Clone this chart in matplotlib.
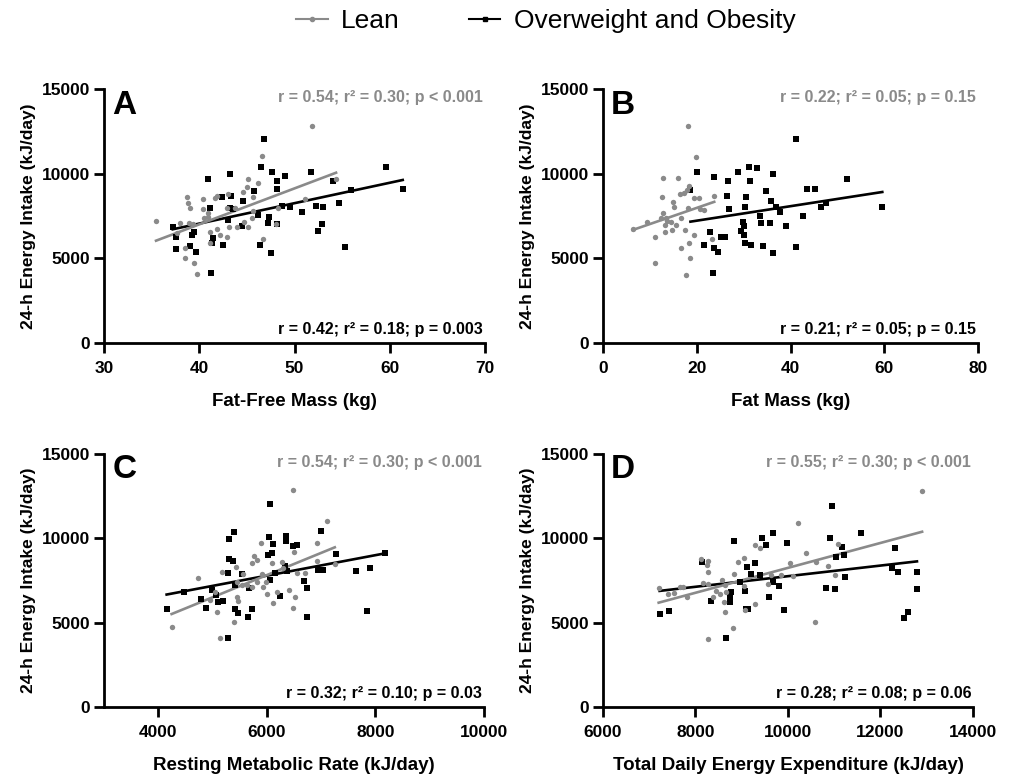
import matplotlib
matplotlib.use('Agg')
import matplotlib.pyplot as plt
from matplotlib.lines import Line2D
import numpy as np

plt.rcParams['font.family'] = ['Liberation Sans', 'DejaVu Sans']

GREY = '#8a8a8a'
BLACK = '#000000'

# ---- data ----
# A: fat-free mass (kg) vs 24-h energy intake (kJ/day)
a_lean_x = [35.46, 51.87, 46.59, 45.15, 46.20, 44.98, 44.56, 45.61, 43.02, 41.83, 41.65, 40.43,
            38.68, 38.85, 39.03, 37.98, 38.96, 39.38, 37.63, 40.43, 40.88, 40.95, 40.50, 42.88,
            43.75, 43.93, 43.09, 45.15, 44.70, 45.50, 45.68, 41.13, 41.83, 42.18, 42.88, 41.13,
            38.50, 38.50, 39.45, 39.73, 46.66, 48.06, 48.30, 51.10, 54.36]
a_lean_y = [7226, 12838, 11026, 9707, 9432, 9195, 8939, 8644, 8801, 8683, 8585, 8526,
            8604, 8250, 7994, 7108, 7108, 7029, 6478, 7896, 7699, 7423, 7364, 7955,
            7994, 6872, 6832, 6872, 7167, 7364, 7817, 6576, 6734, 6380, 6281, 5887,
            5631, 5041, 4745, 4056, 6124, 7029, 7955, 8486, 9687]
a_ow_x = [46.80, 40.95, 43.23, 46.52, 47.64, 49.04, 48.20, 48.13, 45.75, 42.35, 43.33, 44.63,
          41.13, 43.23, 43.58, 43.05, 46.20, 47.36, 47.25, 48.13, 44.45, 48.65, 49.53, 50.75,
          52.26, 52.96, 54.71, 51.77, 54.08, 55.93, 59.57, 61.36, 37.21, 37.56, 39.20, 39.45,
          41.41, 41.37, 42.46, 37.56, 39.03, 39.66, 46.38, 47.57, 52.50, 52.89, 55.27, 41.20]
a_ow_y = [12031, 9668, 9963, 10377, 10121, 9845, 9589, 9077, 8979, 8605, 8703, 8408,
          7955, 7994, 7896, 7266, 7561, 7463, 7108, 7029, 6911, 8112, 8053, 7738,
          8093, 8053, 8250, 10121, 9550, 9038, 10416, 9077, 6872, 6281, 6380, 6576,
          6183, 5887, 5789, 5553, 5749, 5375, 5789, 5297, 6616, 7029, 5651, 4155]

# B: fat mass (kg)
b_lean_x = [18.10, 19.93, 12.89, 15.99, 18.31, 17.82, 17.25, 16.41, 12.68, 19.36, 20.42, 23.73,
            15.00, 15.14, 18.10, 20.63, 21.48, 12.89, 9.37, 12.32, 13.38, 13.73, 14.44, 15.49,
            13.31, 14.79, 13.31, 16.55, 17.39, 6.34, 11.06, 19.36, 23.24, 18.31, 16.69, 18.66,
            11.06, 17.61]
b_lean_y = [12838, 11007, 9727, 9727, 9294, 9038, 8880, 8801, 8644, 8545, 8585, 8683,
            8309, 8053, 7955, 7915, 7856, 7659, 7128, 7364, 7364, 7206, 7128, 6970,
            6970, 6675, 6576, 7364, 6675, 6734, 6281, 6380, 6143, 5887, 5592, 5041,
            4745, 4017]
b_ow_x = [18.66, 20.14, 23.73, 22.89, 21.55, 23.73, 24.44, 23.45, 25.14, 26.06, 26.76, 26.41,
          26.90, 28.73, 31.13, 32.82, 31.34, 30.49, 30.28, 29.93, 30.14, 29.44, 30.14, 30.28,
          31.55, 33.45, 33.66, 34.15, 34.72, 35.92, 36.27, 35.70, 36.27, 36.97, 37.68, 38.94,
          41.27, 41.20, 42.61, 43.52, 45.28, 46.48, 47.54, 52.11, 59.58]
b_ow_y = [9038, 10121, 9825, 6576, 5789, 5592, 5356, 4155, 6242, 6281, 9589, 8703,
          7896, 10121, 10377, 10357, 9569, 8604, 8053, 7167, 6911, 6616, 6380, 5887,
          5789, 7502, 7108, 5749, 8979, 8408, 9963, 7069, 5297, 8053, 7758, 6911,
          12031, 5690, 7502, 9077, 9077, 8053, 8250, 9668, 8033]

# C: resting metabolic rate (kJ/day)
c_lean_x = [4245, 4724, 6485, 7110, 6926, 5896, 5761, 5810, 5718, 6086, 6270, 6497,
            6926, 7251, 5429, 5166, 5564, 5914, 6288, 6546, 6699, 5454, 5534, 5626,
            5718, 5810, 5932, 5981, 5994, 6178, 6411, 6515, 6485, 6104, 5454, 5473,
            4951, 5043, 5074, 5399, 5136]
c_lean_y = [4740, 7663, 12857, 11021, 9697, 9697, 8947, 8710, 8512, 8512, 8611, 9164,
            8650, 8453, 8315, 8019, 7861, 7861, 8216, 7920, 7959, 7387, 7229, 7229,
            7130, 7426, 7130, 7387, 6676, 6834, 6932, 6537, 5886, 6142, 6537, 6281,
            6340, 6834, 5649, 5056, 4069]
c_ow_x = [4153, 4479, 4791, 4877, 4982, 5055, 5092, 5196, 5288, 5307, 5386, 5294,
          5368, 5276, 5534, 5411, 5669, 5411, 5472, 5644, 5718, 6049, 6043, 6104,
          6024, 6092, 6350, 6344, 6472, 6558, 6147, 6055, 6331, 6362, 6239, 6681,
          6730, 6742, 6945, 7025, 6994, 7270, 7650, 7908, 7846, 8172]
c_ow_y = [5787, 6834, 6379, 5886, 6932, 6636, 6202, 6300, 4108, 9954, 10389, 8749,
          8631, 7920, 7900, 7229, 7031, 5787, 5589, 5352, 5787, 12008, 10092, 9658,
          9006, 9105, 10132, 9836, 9559, 9599, 7959, 7525, 8374, 8058, 6597, 7466,
          7071, 5313, 8117, 8117, 10428, 9046, 8058, 8256, 5688, 9105]

# D: total daily energy expenditure (kJ/day)
d_lean_x = [7204, 7413, 7528, 7658, 7730, 7816, 8126, 8260, 8249, 8263, 8162, 8278,
            8379, 8451, 8537, 8581, 8631, 8667, 8609, 8631, 8811, 8270, 8832, 8919,
            9042, 9048, 9279, 9387, 9286, 9063, 9567, 9639, 9841, 10036, 10108, 10216,
            10382, 10584, 10613, 10858, 11074, 11016, 12900]
d_lean_y = [7071, 6676, 6735, 7090, 7130, 6537, 8769, 8650, 8414, 7979, 7327, 7268,
            6537, 6873, 6676, 7525, 7229, 6834, 6241, 5649, 4700, 4009, 7861, 8611,
            7189, 8848, 9598, 9401, 6083, 5747, 7268, 7821, 7821, 8512, 7762, 10922,
            9105, 5017, 8611, 8374, 9658, 7821, 12800]
d_ow_x = [7225, 7420, 8148, 8342, 8667, 8739, 8775, 8753, 8832, 8955, 9070, 9099,
          9142, 9121, 9207, 9279, 9402, 9431, 9517, 9676, 9582, 9675, 9805, 9906,
          9978, 10814, 10901, 10944, 11031, 11175, 11211, 11240, 11009, 11570, 12320, 12248,
          12378, 12789, 12789, 12587, 12508]
d_ow_y = [5510, 5708, 8611, 6300, 4108, 6537, 6834, 6241, 9836, 7426, 6873, 5787,
          5807, 8315, 7861, 8512, 7821, 9994, 9598, 10290, 6537, 7426, 7189, 5747,
          9737, 7031, 9994, 11909, 8907, 9500, 9006, 7683, 6972, 10310, 9441, 8216,
          8019, 7979, 6992, 5609, 5254]

# regression lines (slope, intercept)
a_lean_fit, a_ow_fit = (212.4, -1489), (120.6, 2228)
b_lean_fit, b_ow_fit = (95.5, 6070), (42.8, 6368)
c_lean_fit, c_ow_fit = (1.316, -77), (0.607, 4144)
d_lean_fit, d_ow_fit = (0.7384, 863), (0.3145, 4609)

panel_letters = ['A', 'B', 'C', 'D']
x_labels = ['Fat-Free Mass (kg)', 'Fat Mass (kg)',
            'Resting Metabolic Rate (kJ/day)', 'Total Daily Energy Expenditure (kJ/day)']
x_limits = [(30, 70), (0, 80), (3000, 10000), (6000, 14000)]
x_ticks = [[30, 40, 50, 60, 70], [0, 20, 40, 60, 80],
           [4000, 6000, 8000, 10000], [6000, 8000, 10000, 12000, 14000]]
lean_stats = ['r = 0.54; r\u00b2 = 0.30; p < 0.001', 'r = 0.22; r\u00b2 = 0.05; p = 0.15',
              'r = 0.54; r\u00b2 = 0.30; p < 0.001', 'r = 0.55; r\u00b2 = 0.30; p < 0.001']
ow_stats = ['r = 0.42; r\u00b2 = 0.18; p = 0.003', 'r = 0.21; r\u00b2 = 0.05; p = 0.15',
            'r = 0.32; r\u00b2 = 0.10; p = 0.03', 'r = 0.28; r\u00b2 = 0.08; p = 0.06']

panels = [
    (a_lean_x, a_lean_y, a_ow_x, a_ow_y, a_lean_fit, a_ow_fit),
    (b_lean_x, b_lean_y, b_ow_x, b_ow_y, b_lean_fit, b_ow_fit),
    (c_lean_x, c_lean_y, c_ow_x, c_ow_y, c_lean_fit, c_ow_fit),
    (d_lean_x, d_lean_y, d_ow_x, d_ow_y, d_lean_fit, d_ow_fit),
]

# axes boxes in figure fractions (left, bottom, width, height)
boxes = [
    [0.1031, 0.5591, 0.3776, 0.3265],
    [0.5976, 0.5591, 0.3717, 0.3265],
    [0.1031, 0.0913, 0.3766, 0.3252],
    [0.5976, 0.0913, 0.3667, 0.3252],
]

fig = plt.figure(figsize=(10.09, 7.78), dpi=100)

for i, (lx, ly, ox, oy, lfit, ofit) in enumerate(panels):
    ax = fig.add_axes(boxes[i])

    # fitted lines over the range of each group
    for xs, fit, col in [(ox, ofit, BLACK), (lx, lfit, GREY)]:
        xx = np.array([min(xs), max(xs)])
        ax.plot(xx, fit[0] * xx + fit[1], color=col, lw=1.9, zorder=2)

    ax.scatter(ox, oy, marker='s', s=17, color=BLACK, linewidths=0, zorder=3)
    ax.scatter(lx, ly, marker='o', s=15, color=GREY, linewidths=0, zorder=3)

    ax.set_xlim(x_limits[i])
    ax.set_ylim(0, 15000)
    ax.set_xticks(x_ticks[i])
    ax.set_yticks([0, 5000, 10000, 15000])

    for s in ['top', 'right']:
        ax.spines[s].set_visible(False)
    for s in ['left', 'bottom']:
        ax.spines[s].set_linewidth(2)
    ax.tick_params(direction='out', length=7, width=2, labelsize=12.5)
    ax.tick_params(axis='x', pad=6)
    ax.tick_params(axis='y', pad=3)
    for lab in ax.get_xticklabels() + ax.get_yticklabels():
        lab.set_fontweight('bold')

    ax.set_xlabel(x_labels[i], fontsize=13.5, fontweight='bold', labelpad=12)
    ax.set_ylabel('24-h Energy Intake (kJ/day)', fontsize=12.5, fontweight='bold', labelpad=4)

    ax.text(0.022, 0.998, panel_letters[i], transform=ax.transAxes, fontsize=24,
            fontweight='bold', va='top', ha='left')
    ax.text(0.995, 0.995, lean_stats[i], transform=ax.transAxes, fontsize=11.5,
            fontweight='bold', color=GREY, va='top', ha='right')
    ax.text(0.995, 0.025, ow_stats[i], transform=ax.transAxes, fontsize=11.5,
            fontweight='bold', color=BLACK, va='bottom', ha='right')

handles = [
    Line2D([0], [0], color=GREY, lw=1.5, marker='o', markersize=3),
    Line2D([0], [0], color=BLACK, lw=1.5, marker='s', markersize=3),
]
fig.legend(handles, ['Lean', 'Overweight and Obesity'], loc='upper center',
           bbox_to_anchor=(0.541, 1.019), ncol=2, frameon=False, fontsize=19,
           handlelength=1.2, handletextpad=0.5, columnspacing=2.6)

fig.savefig('out.png', dpi=100)
